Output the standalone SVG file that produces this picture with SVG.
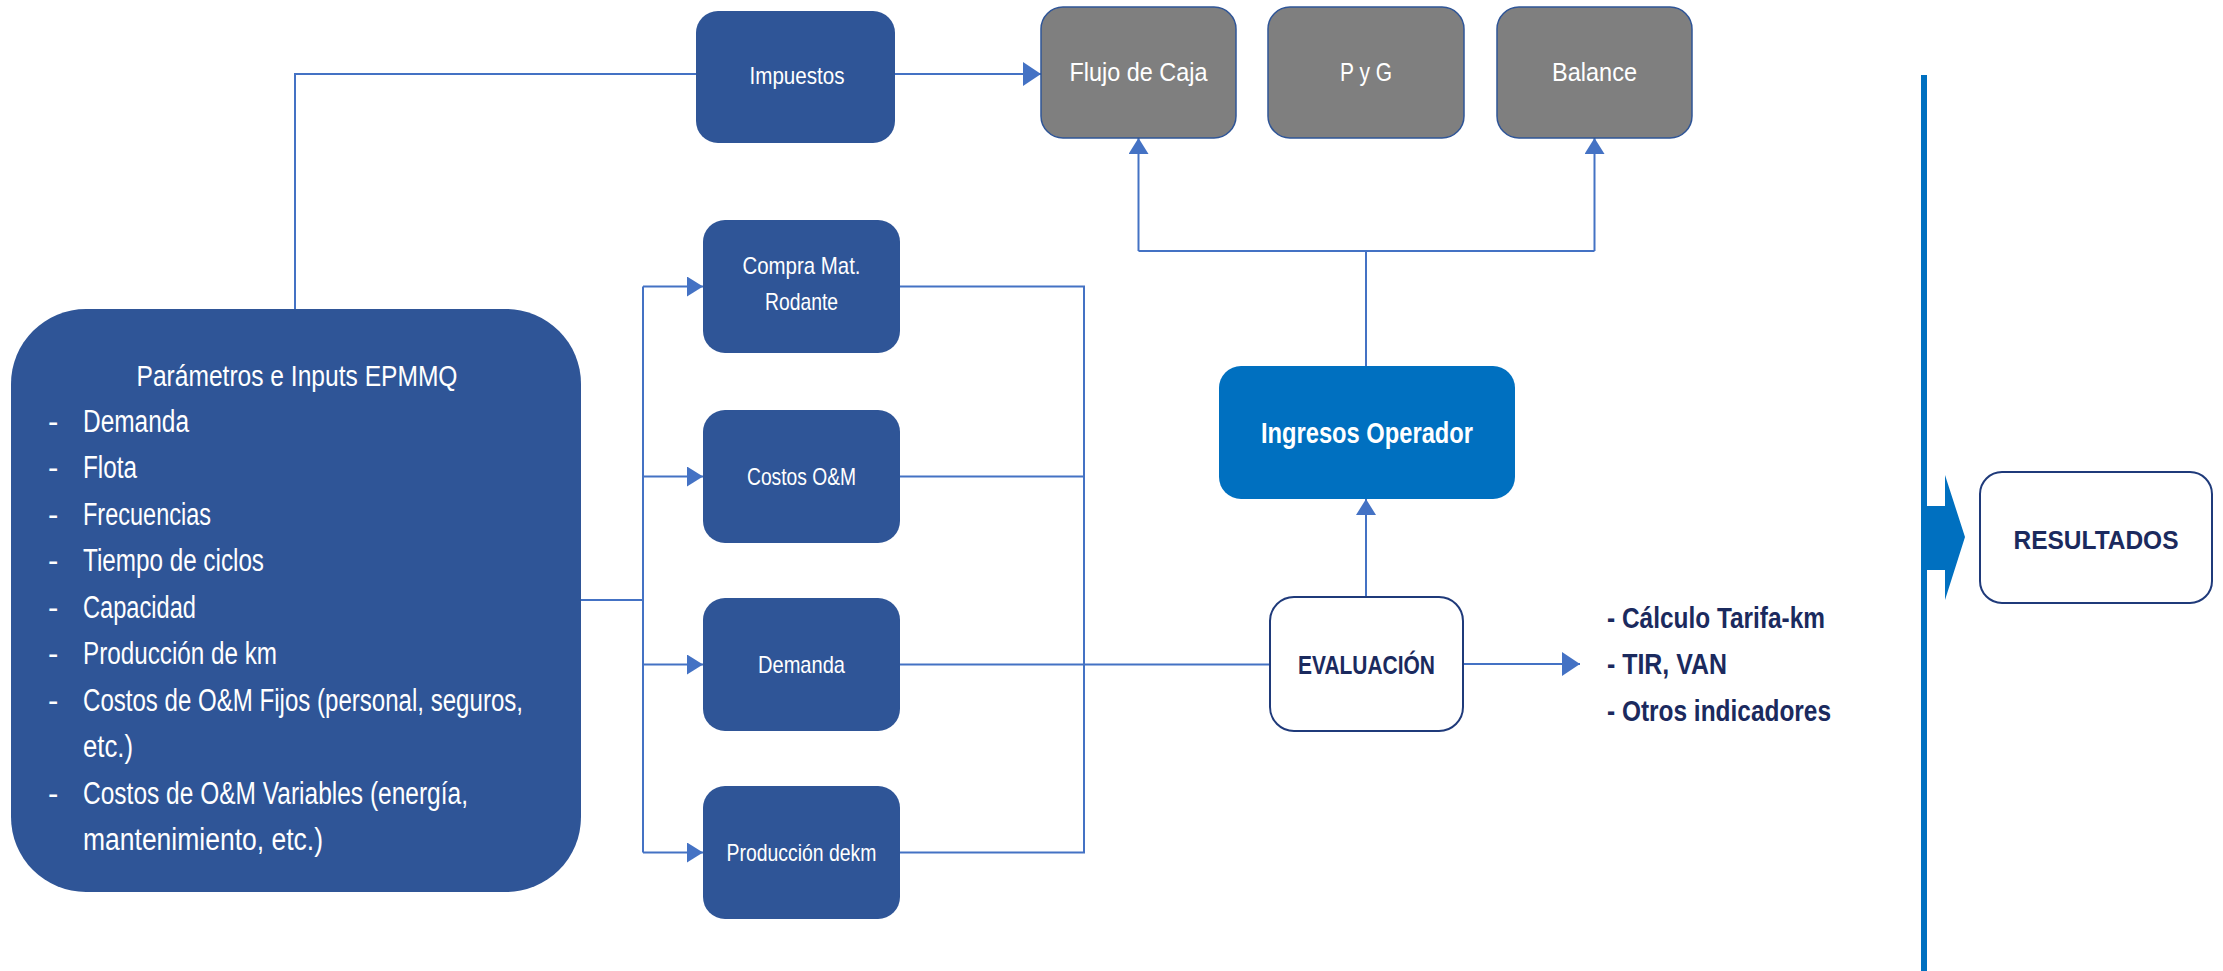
<svg xmlns="http://www.w3.org/2000/svg" width="2223" height="971" viewBox="0 0 2223 971">
  <style>
    .navy { fill: #2F5597; }
    .gray { fill: #7F7F7F; stroke: #2F5597; stroke-width: 1.5; }
    .bright { fill: #0070C0; }
    .outline { fill: #FFFFFF; stroke: #1F3A7A; stroke-width: 2; }
    .conn { fill: none; stroke: #4472C4; stroke-width: 2; }
    .wt { fill: #FFFFFF; font-family: "Liberation Sans", Arial, sans-serif; }
    .dk { fill: #1B2A5E; font-family: "Liberation Sans", Arial, sans-serif; font-weight: bold; }
    .mid { text-anchor: middle; }
  </style>
  <defs>
    <marker id="arr" viewBox="0 0 16 20" markerWidth="16" markerHeight="20" markerUnits="userSpaceOnUse" refX="16" refY="10" orient="auto">
      <path d="M0,0 L16,10 L0,20 z" fill="#4472C4"/>
    </marker>
    <marker id="arrL" viewBox="0 0 18 24" markerWidth="18" markerHeight="24" markerUnits="userSpaceOnUse" refX="18" refY="12" orient="auto">
      <path d="M0,0 L18,12 L0,24 z" fill="#4472C4"/>
    </marker>
  </defs>
  <rect width="2223" height="971" fill="#FFFFFF"/>

  <!-- connectors -->
  <g id="connectors">
    <path class="conn" d="M295,309 V74 H696"/>
    <path class="conn" d="M895,74 H1041" marker-end="url(#arrL)"/>
    <path class="conn" d="M581,600 H643"/>
    <path class="conn" d="M643,286.5 V852.5"/>
    <path class="conn" d="M643,286.5 H703" marker-end="url(#arr)"/>
    <path class="conn" d="M643,476.5 H703" marker-end="url(#arr)"/>
    <path class="conn" d="M643,664.5 H703" marker-end="url(#arr)"/>
    <path class="conn" d="M643,852.5 H703" marker-end="url(#arr)"/>
    <path class="conn" d="M900,286.5 H1084 V852.5 H900"/>
    <path class="conn" d="M900,476.5 H1084"/>
    <path class="conn" d="M900,664.5 H1270"/>
    <path class="conn" d="M1366,597 V499" marker-end="url(#arr)"/>
    <path class="conn" d="M1366,366 V251"/>
    <path class="conn" d="M1138.5,251 H1594.5"/>
    <path class="conn" d="M1138.5,251 V138" marker-end="url(#arr)"/>
    <path class="conn" d="M1594.5,251 V138" marker-end="url(#arr)"/>
    <path class="conn" d="M1463,664 H1580" marker-end="url(#arrL)"/>
  </g>

  <!-- input parameters -->
  <g id="parametros">
    <rect class="navy" x="11" y="309" width="570" height="583" rx="75"/>
    <text class="wt mid" x="297" y="386" font-size="30" textLength="321" lengthAdjust="spacingAndGlyphs">Parámetros e Inputs EPMMQ</text>
    <g font-size="31">
      <text class="wt" x="48" y="432">-</text>
      <text class="wt" x="83" y="432" textLength="106" lengthAdjust="spacingAndGlyphs">Demanda</text>
      <text class="wt" x="48" y="478">-</text>
      <text class="wt" x="83" y="478" textLength="54" lengthAdjust="spacingAndGlyphs">Flota</text>
      <text class="wt" x="48" y="525">-</text>
      <text class="wt" x="83" y="525" textLength="128" lengthAdjust="spacingAndGlyphs">Frecuencias</text>
      <text class="wt" x="48" y="571">-</text>
      <text class="wt" x="83" y="571" textLength="181" lengthAdjust="spacingAndGlyphs">Tiempo de ciclos</text>
      <text class="wt" x="48" y="618">-</text>
      <text class="wt" x="83" y="618" textLength="113" lengthAdjust="spacingAndGlyphs">Capacidad</text>
      <text class="wt" x="48" y="664">-</text>
      <text class="wt" x="83" y="664" textLength="194" lengthAdjust="spacingAndGlyphs">Producción de km</text>
      <text class="wt" x="48" y="711">-</text>
      <text class="wt" x="83" y="711" textLength="440" lengthAdjust="spacingAndGlyphs">Costos de O&amp;M Fijos (personal, seguros,</text>
      <text class="wt" x="83" y="757" textLength="50" lengthAdjust="spacingAndGlyphs">etc.)</text>
      <text class="wt" x="48" y="804">-</text>
      <text class="wt" x="83" y="804" textLength="385" lengthAdjust="spacingAndGlyphs">Costos de O&amp;M Variables (energía,</text>
      <text class="wt" x="83" y="850" textLength="240" lengthAdjust="spacingAndGlyphs">mantenimiento, etc.)</text>
    </g>
  </g>

  <g id="impuestos">
    <rect class="navy" x="696" y="11" width="199" height="132" rx="22"/>
    <text class="wt mid" x="797" y="84" font-size="24" textLength="95" lengthAdjust="spacingAndGlyphs">Impuestos</text>
  </g>

  <g id="flujo-caja">
    <rect class="gray" x="1041" y="7" width="195" height="131" rx="22"/>
    <text class="wt mid" x="1138.5" y="81" font-size="26" textLength="138" lengthAdjust="spacingAndGlyphs">Flujo de Caja</text>
  </g>
  <g id="pyg">
    <rect class="gray" x="1268" y="7" width="196" height="131" rx="22"/>
    <text class="wt mid" x="1366" y="81" font-size="26" textLength="52" lengthAdjust="spacingAndGlyphs">P y G</text>
  </g>
  <g id="balance">
    <rect class="gray" x="1497" y="7" width="195" height="131" rx="22"/>
    <text class="wt mid" x="1594.5" y="81" font-size="26" textLength="85" lengthAdjust="spacingAndGlyphs">Balance</text>
  </g>

  <g id="compra-mat">
    <rect class="navy" x="703" y="220" width="197" height="133" rx="22"/>
    <text class="wt mid" x="801.5" y="274" font-size="24" textLength="118" lengthAdjust="spacingAndGlyphs">Compra Mat.</text>
    <text class="wt mid" x="801.5" y="310" font-size="24" textLength="73" lengthAdjust="spacingAndGlyphs">Rodante</text>
  </g>
  <g id="costos-om">
    <rect class="navy" x="703" y="410" width="197" height="133" rx="22"/>
    <text class="wt mid" x="801.5" y="485" font-size="24" textLength="109" lengthAdjust="spacingAndGlyphs">Costos O&amp;M</text>
  </g>
  <g id="demanda">
    <rect class="navy" x="703" y="598" width="197" height="133" rx="22"/>
    <text class="wt mid" x="801.5" y="673" font-size="24" textLength="87" lengthAdjust="spacingAndGlyphs">Demanda</text>
  </g>
  <g id="produccion">
    <rect class="navy" x="703" y="786" width="197" height="133" rx="22"/>
    <text class="wt mid" x="801.5" y="861" font-size="24" textLength="150" lengthAdjust="spacingAndGlyphs">Producción dekm</text>
  </g>

  <g id="ingresos">
    <rect class="bright" x="1219" y="366" width="296" height="133" rx="22"/>
    <text class="wt mid" x="1367" y="443" font-size="29" font-weight="bold" textLength="212" lengthAdjust="spacingAndGlyphs">Ingresos Operador</text>
  </g>

  <g id="evaluacion">
    <rect class="outline" x="1270" y="597" width="193" height="134" rx="24"/>
    <text class="dk mid" x="1366.5" y="674" font-size="26" textLength="137" lengthAdjust="spacingAndGlyphs">EVALUACIÓN</text>
  </g>

  <g id="indicadores">
    <text class="dk" x="1607" y="628" font-size="29" textLength="218" lengthAdjust="spacingAndGlyphs">- Cálculo Tarifa-km</text>
    <text class="dk" x="1607" y="674" font-size="29" textLength="120" lengthAdjust="spacingAndGlyphs">- TIR, VAN</text>
    <text class="dk" x="1607" y="721" font-size="29" textLength="224" lengthAdjust="spacingAndGlyphs">- Otros indicadores</text>
  </g>

  <!-- results column -->
  <g id="resultados">
    <line x1="1924" y1="75" x2="1924" y2="971" stroke="#0070C0" stroke-width="6"/>
    <polygon points="1926,506 1945,506 1945,475 1965,537 1945,600 1945,570 1926,570" fill="#0070C0"/>
    <rect class="outline" x="1980" y="472" width="232" height="131" rx="22"/>
    <text class="dk mid" x="2096" y="549" font-size="25" textLength="165" lengthAdjust="spacingAndGlyphs">RESULTADOS</text>
  </g>
</svg>
